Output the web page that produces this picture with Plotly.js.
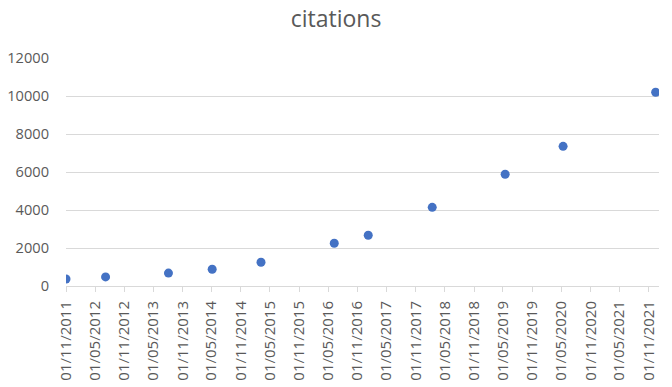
<!DOCTYPE html>
<html>
<head>
<meta charset="utf-8">
<script src="https://cdn.plot.ly/plotly-3.0.1.min.js"></script>
<style>html,body{margin:0;padding:0;background:#fff;}#chart{width:672px;height:387px;}</style>
</head>
<body>
<div id="chart"></div>
<script>
const dates = ['2011-11-01','2012-07-06','2013-08-04','2014-05-05','2015-03-07','2016-06-08','2017-01-07','2018-02-12','2019-05-15','2020-05-12','2021-12-13'];
const citations = [370, 480, 680, 880, 1250, 2250, 2670, 4140, 5880, 7350, 10200];
const tickDates = ['2011-11-01','2012-05-01','2012-11-01','2013-05-01','2013-11-01','2014-05-01','2014-11-01','2015-05-01','2015-11-01','2016-05-01','2016-11-01','2017-05-01','2017-11-01','2018-05-01','2018-11-01','2019-05-01','2019-11-01','2020-05-01','2020-11-01','2021-05-01','2021-11-01'];
const tickLabels = ['01/11/2011','01/05/2012','01/11/2012','01/05/2013','01/11/2013','01/05/2014','01/11/2014','01/05/2015','01/11/2015','01/05/2016','01/11/2016','01/05/2017','01/11/2017','01/05/2018','01/11/2018','01/05/2019','01/11/2019','01/05/2020','01/11/2020','01/05/2021','01/11/2021'];
const yTicks = [0, 2000, 4000, 6000, 8000, 10000, 12000];

const grid = '#d9d9d9';
const txt = '#595959';
const font = 'Open Sans, Noto Sans, sans-serif';

Plotly.newPlot('chart', [{
  type: 'scatter',
  mode: 'markers',
  x: dates,
  y: citations,
  marker: {color: '#4472C4', size: 9},
  hoverinfo: 'x+y'
}], {
  width: 672,
  height: 387,
  paper_bgcolor: '#ffffff',
  plot_bgcolor: '#ffffff',
  margin: {l: 65.7, r: 12.7, t: 58, b: 101},
  showlegend: false,
  title: {
    text: 'citations',
    font: {family: font, size: 23, color: txt},
    x: 0.5, xref: 'container', xanchor: 'center',
    y: 1 - 19/387, yref: 'container', yanchor: 'middle'
  },
  xaxis: {
    type: 'date',
    range: ['2011-11-01', '2022-01-03'],
    tickmode: 'array',
    tickvals: tickDates,
    ticktext: tickLabels,
    tickangle: -90,
    ticks: 'outside',
    ticklen: 5,
    tickcolor: grid,
    ticklabelstandoff: 3,
    showgrid: false,
    showline: false,
    zeroline: false,
    tickfont: {family: font, size: 15, color: txt}
  },
  yaxis: {
    range: [0, 12000],
    tickmode: 'array',
    tickvals: yTicks,
    ticktext: yTicks.map(String),
    showgrid: true,
    gridcolor: grid,
    gridwidth: 1,
    zeroline: true,
    zerolinecolor: grid,
    zerolinewidth: 1,
    showline: false,
    ticks: '',
    ticklabelstandoff: 16,
    tickfont: {family: font, size: 14.6, color: txt}
  }
}, {displayModeBar: false, staticPlot: true});
</script>
</body>
</html>
